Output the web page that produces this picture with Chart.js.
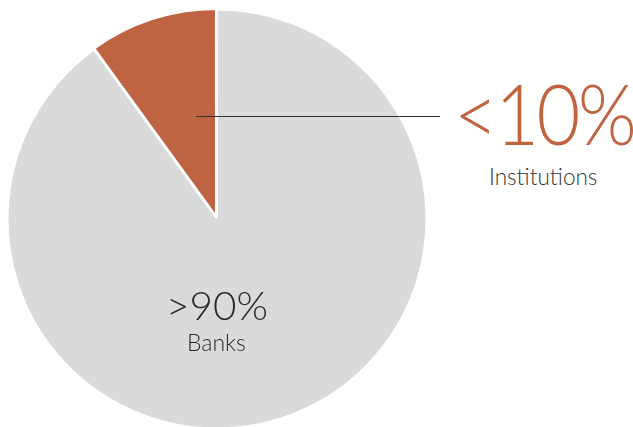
<!DOCTYPE html>
<html>
<head>
<meta charset="utf-8">
<script src="https://cdn.jsdelivr.net/npm/chart.js@4.4.1/dist/chart.umd.min.js"></script>
<style>
  html, body { margin: 0; padding: 0; background: #ffffff; width: 633px; height: 427px; overflow: hidden; }
  #wrap { position: absolute; left: 4px; top: 6px; width: 426px; height: 426px; }
  .lbl { position: absolute; white-space: nowrap; font-family: Lato, "Open Sans", sans-serif; font-weight: 300; line-height: 1; transform-origin: 0 0; }
  #bigPct { left: 454px; top: 71px; font-size: 84px; color: #C0633F; letter-spacing: -3px; }
  #bigName { left: 489px; top: 166px; font-size: 22.5px; color: #333333; }
  #smallPct { left: 166px; top: 285px; font-size: 40px; color: #2b2b2b; }
  #smallName { left: 187px; top: 331px; font-size: 23px; color: #2b2b2b; }
  #leader { position: absolute; left: 196px; top: 116px; width: 244px; height: 1px; background: #333333; }
</style>
</head>
<body>
<div id="wrap"><canvas id="c"></canvas></div>
<div id="leader"></div>
<div class="lbl" id="bigPct"></div>
<div class="lbl" id="bigName"></div>
<div class="lbl" id="smallPct"></div>
<div class="lbl" id="smallName"></div>
<script>
const categories = ["Banks", "Institutions"];
const shareValues = [90, 10];
const shareLabels = [">90%", "<10%"];
const colors = ["#D9DAD9", "#BF6443"];

document.getElementById("smallPct").textContent = shareLabels[0];
document.getElementById("smallName").textContent = categories[0];
document.getElementById("bigPct").textContent = shareLabels[1];
document.getElementById("bigName").textContent = categories[1];

function fitWidth(id, target) {
  const el = document.getElementById(id);
  const w = el.getBoundingClientRect().width;
  if (w > 0) el.style.transform = "scaleX(" + (target / w) + ")";
}
fitWidth("bigPct", 180);
fitWidth("smallPct", 102);

new Chart(document.getElementById("c"), {
  type: "pie",
  data: {
    labels: categories,
    datasets: [{
      data: shareValues,
      backgroundColor: colors,
      borderColor: "#ffffff",
      borderWidth: [0, 3],
      offset: [0, 6]
    }]
  },
  options: {
    responsive: true,
    maintainAspectRatio: false,
    animation: false,
    events: [],
    layout: { padding: 0 },
    plugins: { legend: { display: false }, tooltip: { enabled: false } }
  }
});
</script>
</body>
</html>
